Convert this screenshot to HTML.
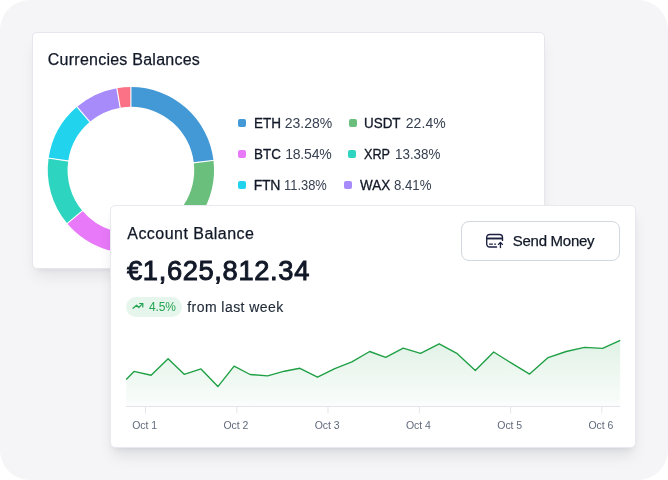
<!DOCTYPE html>
<html><head><meta charset="utf-8"><title>Balances</title>
<style>
html,body{margin:0;padding:0;background:#fff;}
body{width:668px;height:480px;position:relative;overflow:hidden;font-family:"Liberation Sans",Arial,sans-serif;color:#111827;}
.bg{position:absolute;left:0;top:0;width:668px;height:480px;background:#f5f5f7;border-radius:30px;}
.card{position:absolute;background:#fff;box-sizing:border-box;}
#c1{left:32px;top:32px;width:513px;height:237px;border-radius:5px;border:1px solid #e6e7ed;box-shadow:0 10px 15px -3px rgba(10,15,40,.075),0 4px 6px -4px rgba(10,15,40,.075);}
#c2{left:110px;top:205px;width:526px;height:243px;border-radius:5px;border:1px solid #e7e9ee;box-shadow:0 10px 15px -3px rgba(10,15,40,.10),0 4px 6px -4px rgba(10,15,40,.10);}
.t{position:absolute;white-space:nowrap;line-height:1;}
svg{position:absolute;left:0;top:0;overflow:visible}
.dot{position:absolute;width:8px;height:8px;border-radius:2px;display:block}
.h{font-size:16px;-webkit-text-stroke:.25px #111827;}
.lg{font-size:14px;color:#374151}
.lg u{text-decoration:none;letter-spacing:.5px}
.lb{color:#111827;-webkit-text-stroke:.3px #111827;}
.ax{font-size:10.5px;color:#616a7d;letter-spacing:-.08px}
.big{font-size:27.3px;font-weight:400;color:#111827;-webkit-text-stroke:.95px #111827}
.btn{position:absolute;left:461px;top:221px;width:159px;height:40px;box-sizing:border-box;border:1px solid #d3d7df;border-radius:8px;background:#fff}
.badge{position:absolute;left:125.8px;top:296.8px;width:56.4px;height:20px;border-radius:10px;background:#e7f6ec}
</style></head><body>
<div class="bg"></div>
<section aria-label="Currencies Balances">
<div class="card" id="c1"></div>
<svg width="668" height="480" viewBox="0 0 668 480"><path d="M130.90 86.95A83.15 83.15 0 0 1 213.48 160.40L193.82 162.71A63.35 63.35 0 0 0 130.90 106.75Z" fill="#4299d5"/>
<path d="M213.48 160.40A83.15 83.15 0 0 1 154.52 249.83L148.89 230.84A63.35 63.35 0 0 0 193.82 162.71Z" fill="#6abf7d"/>
<path d="M154.52 249.83A83.15 83.15 0 0 1 67.20 223.55L82.37 210.82A63.35 63.35 0 0 0 148.89 230.84Z" fill="#e879f9"/>
<path d="M67.20 223.55A83.15 83.15 0 0 1 48.62 158.10L68.21 160.96A63.35 63.35 0 0 0 82.37 210.82Z" fill="#2dd4bf"/>
<path d="M48.62 158.10A83.15 83.15 0 0 1 77.01 106.78L89.84 121.86A63.35 63.35 0 0 0 68.21 160.96Z" fill="#22d3ee"/>
<path d="M77.01 106.78A83.15 83.15 0 0 1 116.82 88.15L120.17 107.67A63.35 63.35 0 0 0 89.84 121.86Z" fill="#a78bfa"/>
<path d="M116.82 88.15A83.15 83.15 0 0 1 130.90 86.95L130.90 106.75A63.35 63.35 0 0 0 120.17 107.67Z" fill="#fb7185"/>
<path d="M130.90 85.95L130.90 107.75" stroke="#fff" stroke-width="1.1"/>
<path d="M214.48 160.28L192.82 162.83" stroke="#fff" stroke-width="1.1"/>
<path d="M154.80 250.78L148.61 229.88" stroke="#fff" stroke-width="1.1"/>
<path d="M66.44 224.19L83.14 210.18" stroke="#fff" stroke-width="1.1"/>
<path d="M47.63 157.95L69.20 161.10" stroke="#fff" stroke-width="1.1"/>
<path d="M76.36 106.02L90.49 122.62" stroke="#fff" stroke-width="1.1"/>
<path d="M116.65 87.17L120.34 108.65" stroke="#fff" stroke-width="1.1"/></svg>
<span class="t h" style="left:47.80px;letter-spacing:0.244px;top:52.2px">Currencies Balances</span>
<i class="dot" style="left:238px;top:119.2px;background:#4299d5"></i><span class="t lg lb" style="left:253.97px;transform:scaleX(0.9663);transform-origin:0 0;top:115.7px">ETH</span><span class="t lg" style="left:284.74px;letter-spacing:-0.002px;top:115.7px">23.28%</span><i class="dot" style="left:348.7px;top:119.2px;background:#6abf7d"></i><span class="t lg lb" style="left:363.87px;transform:scaleX(0.9577);transform-origin:0 0;top:115.7px">USDT</span><span class="t lg" style="left:405.75px;letter-spacing:0.060px;top:115.7px">22.4%</span><i class="dot" style="left:238px;top:150.2px;background:#e879f9"></i><span class="t lg lb" style="left:253.97px;transform:scaleX(0.9585);transform-origin:0 0;top:146.8px">BTC</span><span class="t lg" style="left:285.15px;letter-spacing:-0.178px;top:146.8px">18.54%</span><i class="dot" style="left:347.7px;top:150.2px;background:#2dd4bf"></i><span class="t lg lb" style="left:363.73px;transform:scaleX(0.9048);transform-origin:0 0;top:146.8px">XRP</span><span class="t lg" style="left:395.09px;transform:scaleX(0.9555);transform-origin:0 0;top:146.8px">13.38%</span><i class="dot" style="left:238px;top:181.2px;background:#22d3ee"></i><span class="t lg lb" style="left:253.78px;letter-spacing:-0.270px;top:177.8px">FTN</span><span class="t lg" style="left:284.08px;transform:scaleX(0.9220);transform-origin:0 0;top:177.8px">11.38%</span><i class="dot" style="left:343.9px;top:181.2px;background:#a78bfa"></i><span class="t lg lb" style="left:359.94px;transform:scaleX(0.9600);transform-origin:0 0;top:177.8px">WAX</span><span class="t lg" style="left:394.42px;transform:scaleX(0.9429);transform-origin:0 0;top:177.8px">8.41%</span>
</section>
<section aria-label="Account Balance">
<div class="card" id="c2"></div>
<span class="t h" style="left:127.25px;letter-spacing:0.470px;top:225.5px">Account Balance</span>
<span class="t big" style="left:126.99px;letter-spacing:0.650px;top:257.2px">€1,625,812.34</span>
<div class="badge"></div>
<span class="t" style="left:149.01px;letter-spacing:-0.144px;top:300.9px;font-size:12px;color:#23a553">4.5%</span>
<span class="t" style="left:187.25px;letter-spacing:0.442px;top:299.6px;font-size:14px;color:#1f2937;-webkit-text-stroke:.15px #1f2937">from last week</span>
<div class="btn" role="button"></div>
<span class="t" style="left:512.78px;letter-spacing:-0.274px;top:233.4px;font-size:15px;color:#111827;-webkit-text-stroke:.25px #111827">Send Money</span>
<svg width="668" height="480" viewBox="0 0 668 480">
<defs><linearGradient id="g" x1="0" y1="340" x2="0" y2="406" gradientUnits="userSpaceOnUse"><stop offset="0" stop-color="#22a04a" stop-opacity=".14"/><stop offset="1" stop-color="#22a04a" stop-opacity=".02"/></linearGradient></defs>
<path d="M126.2 379.4 L134.0 371.4 L151.1 375.3 L168.1 358.7 L184.2 374.3 L201.0 368.9 L217.9 386.6 L234.1 366.1 L250.1 374.5 L267.6 375.9 L284.4 371.2 L299.9 368.3 L317.5 377.2 L334.8 368.7 L351.9 361.9 L369.7 351.5 L385.7 357.4 L403.2 348.2 L420.5 353.3 L439.2 343.8 L457.3 353.7 L475.3 370.4 L493.7 352 L511.5 363.2 L529.6 374.1 L548.1 357.6 L566.2 351.5 L584.5 347.4 L602.6 348.4 L620.2 340.3 L620.2 406.5 L126.2 406.5 Z" fill="url(#g)"/>
<path d="M126.2 379.4 L134.0 371.4 L151.1 375.3 L168.1 358.7 L184.2 374.3 L201.0 368.9 L217.9 386.6 L234.1 366.1 L250.1 374.5 L267.6 375.9 L284.4 371.2 L299.9 368.3 L317.5 377.2 L334.8 368.7 L351.9 361.9 L369.7 351.5 L385.7 357.4 L403.2 348.2 L420.5 353.3 L439.2 343.8 L457.3 353.7 L475.3 370.4 L493.7 352 L511.5 363.2 L529.6 374.1 L548.1 357.6 L566.2 351.5 L584.5 347.4 L602.6 348.4 L620.2 340.3" fill="none" stroke="#1fa045" stroke-width="1.4" stroke-linejoin="round" stroke-linecap="butt"/>
<path d="M126 406.5H620.2" stroke="#e4e5ec" stroke-width="1"/>
<path d="M145.5 406.5V413.5" stroke="#e4e5ec" stroke-width="1"/><path d="M236.8 406.5V413.5" stroke="#e4e5ec" stroke-width="1"/><path d="M328.0 406.5V413.5" stroke="#e4e5ec" stroke-width="1"/><path d="M419.3 406.5V413.5" stroke="#e4e5ec" stroke-width="1"/><path d="M510.6 406.5V413.5" stroke="#e4e5ec" stroke-width="1"/><path d="M601.8 406.5V413.5" stroke="#e4e5ec" stroke-width="1"/>
<g fill="none" stroke="#22a350" stroke-width="1.2" stroke-linecap="round" stroke-linejoin="round"><path d="M133.1 308.3L136.6 305.2L138.8 307.5L142.7 303.6"/><path d="M139.6 303.5H142.8V306.9"/></g>
<g fill="none" stroke="#1c2140" stroke-width="1.35" stroke-linecap="round" stroke-linejoin="round">
<path d="M496.6 247H489.6a2.9 2.9 0 0 1 -2.9 -2.9V237.4a2.9 2.9 0 0 1 2.9 -2.9h10a2.9 2.9 0 0 1 2.9 2.9v3"/>
<path d="M486.7 238.5H502.5" stroke-width="1.9" stroke-linecap="butt"/>
<path d="M489.6 244.1h2.9M494.6 244.1h1" stroke-width="1.15"/>
<path d="M500.45 247.5v-4.9M498.5 244.4l1.95 -2l1.95 2"/>
</g>
</svg>
<span class="t ax" style="left:124.6px;top:420.4px;width:40px;text-align:center">Oct 1</span><span class="t ax" style="left:215.9px;top:420.4px;width:40px;text-align:center">Oct 2</span><span class="t ax" style="left:307.1px;top:420.4px;width:40px;text-align:center">Oct 3</span><span class="t ax" style="left:398.4px;top:420.4px;width:40px;text-align:center">Oct 4</span><span class="t ax" style="left:489.7px;top:420.4px;width:40px;text-align:center">Oct 5</span><span class="t ax" style="left:580.9px;top:420.4px;width:40px;text-align:center">Oct 6</span>
</section>
</body></html>
